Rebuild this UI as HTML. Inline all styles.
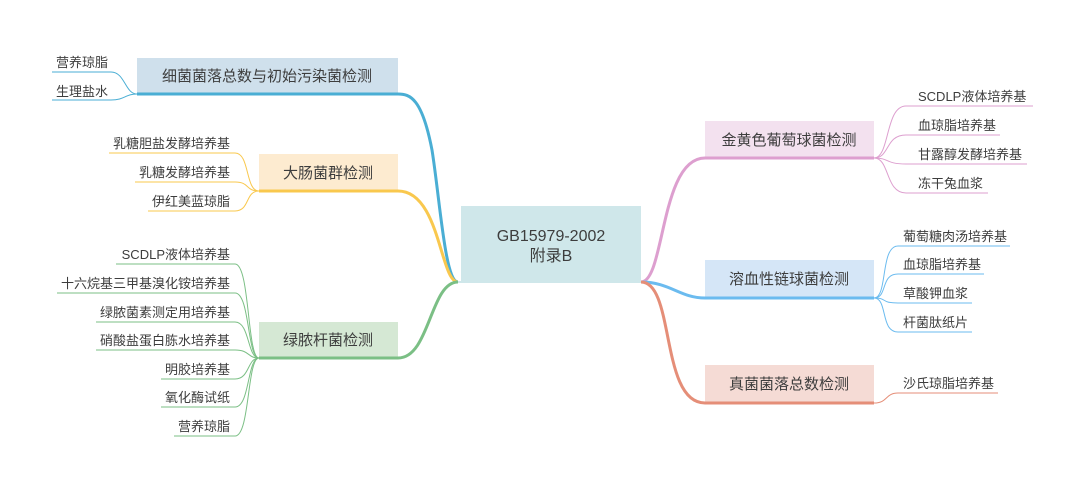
<!DOCTYPE html>
<html><head><meta charset="utf-8"><style>
html,body{margin:0;padding:0;background:#fff;}
svg text{font-family:"Liberation Sans","Noto Sans CJK SC",sans-serif;fill:#3d3d3d;}
.m{font-size:15px;}
.l{font-size:13px;}
</style></head><body>
<svg width="1080" height="484" viewBox="0 0 1080 484" xmlns="http://www.w3.org/2000/svg">
<rect x="461" y="206" width="180" height="76" fill="#cfe7ea"/>
<text x="551" y="241" text-anchor="middle" style="font-size:16px">GB15979-2002</text>
<text x="551" y="261" text-anchor="middle" style="font-size:16px">附录B</text>
<line x1="455" y1="282" x2="645" y2="282" stroke="#cfe7ea" stroke-width="2"/>

<g fill="none" stroke-width="3">
<path d="M458,282 C445,282 440,200 432,150 C422,98 410,94 398,94" stroke="#4aaed4"/>
<path d="M458,282 C440,282 440,191 398,191" stroke="#f9c84e"/>
<path d="M458,282 C430,282 430,358 398,358" stroke="#7bbf85"/>
<path d="M641,282 C665,282 660,158 705,158" stroke="#dd9fcf"/>
<path d="M641,282 C670,282 680,298 705,298" stroke="#6bbbef"/>
<path d="M641,282 C675,282 660,403 705,403" stroke="#e58e78"/>
</g>

<rect x="137" y="58" width="261" height="36" fill="#cfe0ec"/>
<line x1="137" y1="94" x2="398" y2="94" stroke="#4aaed4" stroke-width="3"/>
<text x="267" y="81" class="m" text-anchor="middle">细菌菌落总数与初始污染菌检测</text>
<g fill="none" stroke="#4aaed4" stroke-width="1">
<path d="M137,94 C125,94 125,72 111,72 L52,72"/>
<path d="M137,94 C125,94 125,100 111,100 L52,100"/>
</g>
<text x="56" y="67" class="l">营养琼脂</text>
<text x="56" y="96" class="l">生理盐水</text>

<rect x="259" y="154" width="139" height="37" fill="#fdebd0"/>
<line x1="259" y1="191" x2="398" y2="191" stroke="#f9c84e" stroke-width="3"/>
<text x="328" y="178" class="m" text-anchor="middle">大肠菌群检测</text>
<g fill="none" stroke="#f9c84e" stroke-width="1">
<path d="M259,191 C245,191 250,153 235,153 L109,153"/>
<path d="M259,191 C245,191 250,182 235,182 L135,182"/>
<path d="M259,191 C245,191 250,211 235,211 L148,211"/>
</g>
<text x="230" y="148" class="l" text-anchor="end">乳糖胆盐发酵培养基</text>
<text x="230" y="177" class="l" text-anchor="end">乳糖发酵培养基</text>
<text x="230" y="206" class="l" text-anchor="end">伊红美蓝琼脂</text>

<rect x="259" y="322" width="139" height="36" fill="#d5e8d4"/>
<line x1="259" y1="358" x2="398" y2="358" stroke="#7bbf85" stroke-width="3"/>
<text x="328" y="345" class="m" text-anchor="middle">绿脓杆菌检测</text>
<g fill="none" stroke="#7bbf85" stroke-width="1">
<path d="M259,358 C247,358 250,264 235,264 L116,264"/>
<path d="M259,358 C247,358 250,293 235,293 L57,293"/>
<path d="M259,358 C247,358 250,322 235,322 L96,322"/>
<path d="M259,358 C247,358 250,350 235,350 L96,350"/>
<path d="M259,358 C247,358 250,379 235,379 L161,379"/>
<path d="M259,358 C247,358 250,407 235,407 L161,407"/>
<path d="M259,358 C247,358 250,436 235,436 L174,436"/>
</g>
<text x="230" y="259" class="l" text-anchor="end">SCDLP液体培养基</text>
<text x="230" y="288" class="l" text-anchor="end">十六烷基三甲基溴化铵培养基</text>
<text x="230" y="317" class="l" text-anchor="end">绿脓菌素测定用培养基</text>
<text x="230" y="345" class="l" text-anchor="end">硝酸盐蛋白胨水培养基</text>
<text x="230" y="374" class="l" text-anchor="end">明胶培养基</text>
<text x="230" y="402" class="l" text-anchor="end">氧化酶试纸</text>
<text x="230" y="431" class="l" text-anchor="end">营养琼脂</text>

<rect x="705" y="121" width="169" height="37" fill="#f3e1ef"/>
<line x1="705" y1="158" x2="874" y2="158" stroke="#dd9fcf" stroke-width="3"/>
<text x="789" y="145" class="m" text-anchor="middle">金黄色葡萄球菌检测</text>
<g fill="none" stroke="#dd9fcf" stroke-width="1">
<path d="M874,158 C890,158 885,106 906,106 L1033,106"/>
<path d="M874,158 C890,158 885,135 906,135 L1000,135"/>
<path d="M874,158 C890,158 885,164 906,164 L1027,164"/>
<path d="M874,158 C890,158 885,193 906,193 L988,193"/>
</g>
<text x="918" y="101" class="l">SCDLP液体培养基</text>
<text x="918" y="130" class="l">血琼脂培养基</text>
<text x="918" y="159" class="l">甘露醇发酵培养基</text>
<text x="918" y="188" class="l">冻干兔血浆</text>

<rect x="705" y="260" width="169" height="38" fill="#d5e6f7"/>
<line x1="705" y1="298" x2="874" y2="298" stroke="#6bbbef" stroke-width="3"/>
<text x="789" y="284" class="m" text-anchor="middle">溶血性链球菌检测</text>
<g fill="none" stroke="#6bbbef" stroke-width="1">
<path d="M874,298 C888,298 880,246 898,246 L1010,246"/>
<path d="M874,298 C888,298 880,274 898,274 L984,274"/>
<path d="M874,298 C888,298 880,303 898,303 L972,303"/>
<path d="M874,298 C888,298 880,332 898,332 L972,332"/>
</g>
<text x="903" y="241" class="l">葡萄糖肉汤培养基</text>
<text x="903" y="269" class="l">血琼脂培养基</text>
<text x="903" y="298" class="l">草酸钾血浆</text>
<text x="903" y="327" class="l">杆菌肽纸片</text>

<rect x="705" y="365" width="169" height="38" fill="#f5dbd5"/>
<line x1="705" y1="403" x2="874" y2="403" stroke="#e58e78" stroke-width="3"/>
<text x="789" y="389" class="m" text-anchor="middle">真菌菌落总数检测</text>
<path d="M874,403 C888,403 885,393 898,393 L998,393" fill="none" stroke="#e58e78" stroke-width="1"/>
<text x="903" y="388" class="l">沙氏琼脂培养基</text>
</svg>
</body></html>
